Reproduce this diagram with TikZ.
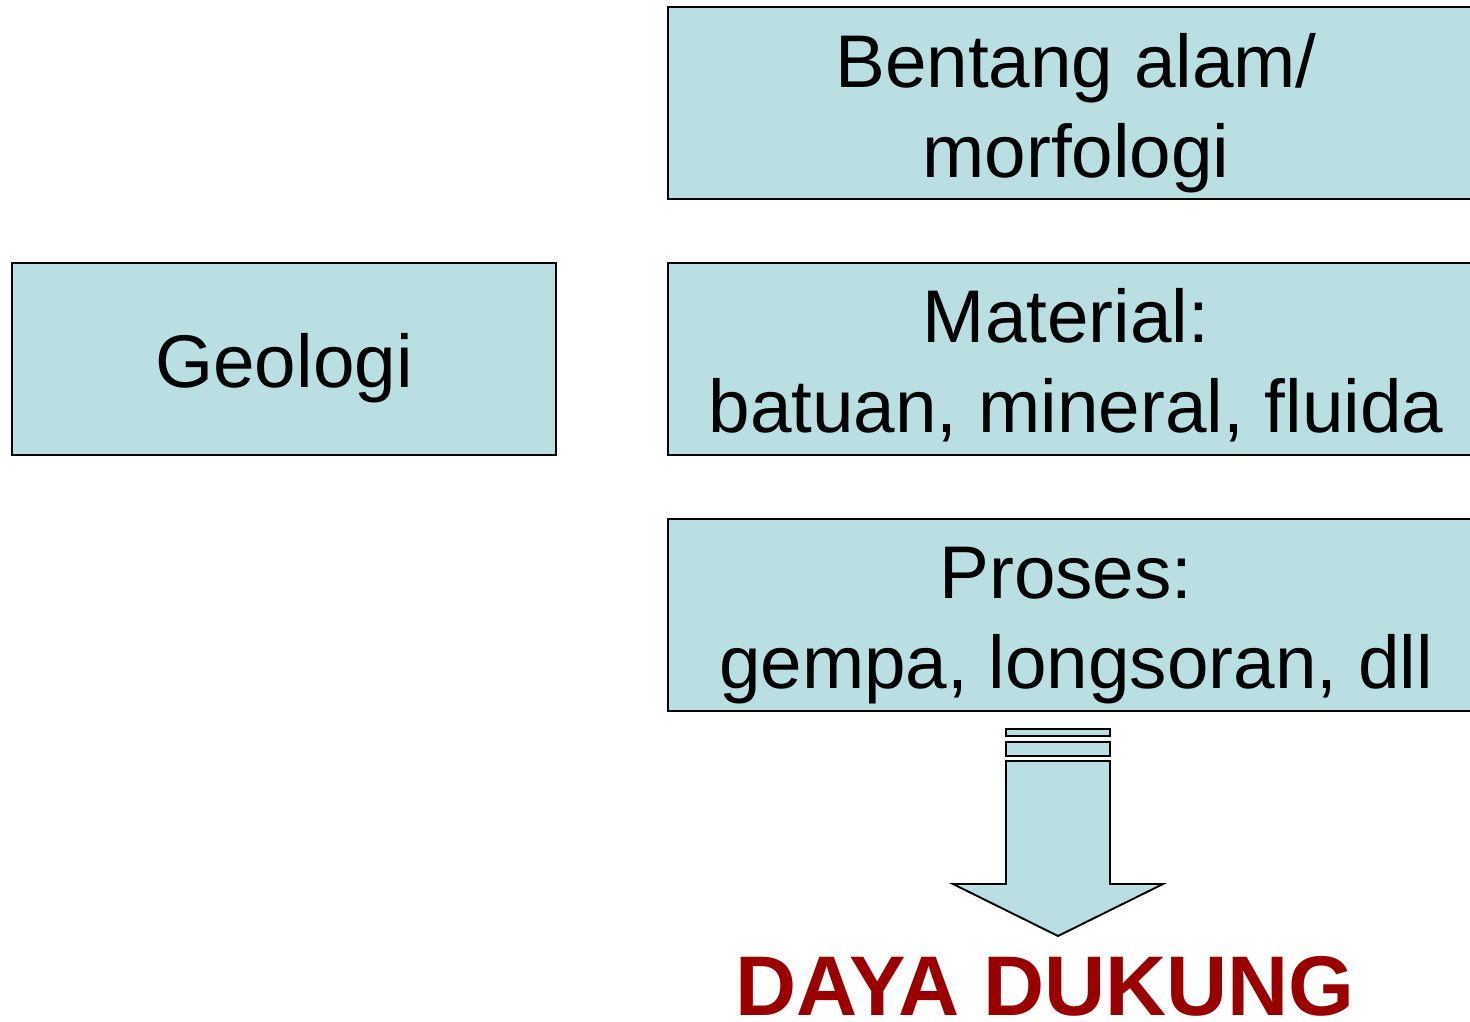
\documentclass[tikz,border=0pt]{standalone}
\usepackage{fontspec}
\setmainfont{Liberation Sans}
\definecolor{boxfill}{RGB}{185,223,226}
\definecolor{darkred}{RGB}{153,0,0}
\begin{document}
\begin{tikzpicture}[x=0.02cm,y=-0.02cm,
  box/.style={draw=black,fill=boxfill,line width=1.1pt,inner sep=0pt,minimum height=3.84cm},
  lbl/.style={anchor=base,inner sep=0pt,font=\fontsize{42.5}{51}\selectfont},
  arr/.style={draw=black,fill=boxfill,line width=1.1pt,line join=miter}]
\useasboundingbox (0,0) rectangle (1470,1021);
\clip (0,0) rectangle (1470,1021);
\node[box,minimum width=10.88cm] (geo) at (284,359) {};
\node[box,minimum width=16.28cm] (b1) at (1075,103) {};
\node[box,minimum width=16.28cm] (b2) at (1075,359) {};
\node[box,minimum width=16.28cm] (b3) at (1075,615) {};
\node[lbl] (tgeo) at (284,387) {Geologi};
\node[lbl] (t1a) at (1076,87) {Bentang alam/};
\node[lbl] (t1b) at (1076,177) {morfologi};
\node[lbl] (t2a) at (1066,342) {Material:};
\node[lbl] (t2b) at (1076,432) {batuan, mineral, fluida};
\node[lbl] (t3a) at (1066,598) {Proses:};
\node[lbl] (t3b) at (1076,688) {gempa, longsoran, dll};
\draw[arr] (1006,729) rectangle (1110,736);
\draw[arr] (1006,742) rectangle (1110,756);
\draw[arr] (1006,761) -- (1110,761) -- (1110,884) -- (1163,884) -- (1058,936) -- (953,884) -- (1006,884) -- cycle;
\node[anchor=base,inner sep=0pt,text=darkred,font=\fontsize{48.2}{56}\selectfont\bfseries] (dd) at (1045,1015) {DAYA DUKUNG};
\end{tikzpicture}
\end{document}
